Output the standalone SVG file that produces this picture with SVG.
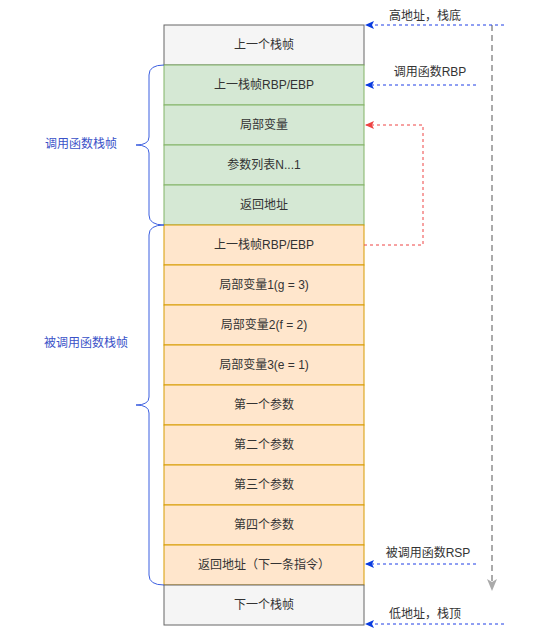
<svg xmlns="http://www.w3.org/2000/svg" width="545" height="643" viewBox="0 0 545 643">
<style>
text{font-family:"Liberation Sans","Noto Sans CJK SC",sans-serif;font-size:12px;fill:#333;text-anchor:middle;dominant-baseline:central}
.g rect{fill:#f5f5f5;stroke:#666}
.gr rect{fill:#d5e8d4;stroke:#82b366}
.o rect{fill:#ffe6cc;stroke:#d79b00}
.blue{fill:none;stroke:#1f3fe6;stroke-dasharray:3 3}
.red{fill:none;stroke:#ee4444;stroke-dasharray:3 3}
.brace{fill:none;stroke:#3b5ee0;stroke-width:1}
.bl{fill:#3a52c8}
</style>
<defs>
<marker id="ab" markerWidth="10" markerHeight="10" refX="8" refY="5" orient="auto" markerUnits="userSpaceOnUse"><path d="M0,1 L9,5 L0,9 L2,5 Z" fill="#0a3ce0"/></marker>
<marker id="ar" markerWidth="10" markerHeight="10" refX="8" refY="5" orient="auto" markerUnits="userSpaceOnUse"><path d="M0,1 L9,5 L0,9 L2,5 Z" fill="#ee4444"/></marker>
<marker id="ag" markerWidth="14" markerHeight="14" refX="7" refY="7" orient="auto" markerUnits="userSpaceOnUse"><path d="M0,2 L12,7 L0,12 L3,7 Z" fill="#aaa"/></marker>
</defs>
<g id="n1" class="g"><rect x="164" y="25" width="200" height="40"/><text x="264" y="45">上一个栈帧</text></g>
<g id="n2" class="gr"><rect x="164" y="65" width="200" height="40"/><text x="264" y="85">上一栈帧RBP/EBP</text></g>
<g id="n3" class="gr"><rect x="164" y="105" width="200" height="40"/><text x="264" y="125">局部变量</text></g>
<g id="n4" class="gr"><rect x="164" y="145" width="200" height="40"/><text x="264" y="165">参数列表N...1</text></g>
<g id="n5" class="gr"><rect x="164" y="185" width="200" height="40"/><text x="264" y="205">返回地址</text></g>
<g id="n6" class="o"><rect x="164" y="225" width="200" height="40"/><text x="264" y="245">上一栈帧RBP/EBP</text></g>
<g id="n7" class="o"><rect x="164" y="265" width="200" height="40"/><text x="264" y="285">局部变量1(g = 3)</text></g>
<g id="n8" class="o"><rect x="164" y="305" width="200" height="40"/><text x="264" y="325">局部变量2(f = 2)</text></g>
<g id="n9" class="o"><rect x="164" y="345" width="200" height="40"/><text x="264" y="365">局部变量3(e = 1)</text></g>
<g id="n10" class="o"><rect x="164" y="385" width="200" height="40"/><text x="264" y="405">第一个参数</text></g>
<g id="n11" class="o"><rect x="164" y="425" width="200" height="40"/><text x="264" y="445">第二个参数</text></g>
<g id="n12" class="o"><rect x="164" y="465" width="200" height="40"/><text x="264" y="485">第三个参数</text></g>
<g id="n13" class="o"><rect x="164" y="505" width="200" height="40"/><text x="264" y="525">第四个参数</text></g>
<g id="n14" class="o"><rect x="164" y="545" width="200" height="40"/><text x="264" y="565">返回地址（下一条指令）</text></g>
<g id="n15" class="g"><rect x="164" y="585" width="200" height="40"/><text x="264" y="605">下一个栈帧</text></g>

<g id="brace1"><path class="brace" d="M164,65 Q149,65 149,75 L149,137 Q149,145 136,145 Q149,145 149,153 L149,215 Q149,225 164,225"/><text class="bl" x="81" y="144">调用函数栈帧</text></g>
<g id="brace2"><path class="brace" d="M164,225 Q149,225 149,235 L149,397 Q149,405 136,405 Q149,405 149,413 L149,575 Q149,585 164,585"/><text class="bl" x="86" y="343">被调用函数栈帧</text></g>

<g id="connectors">
<path d="M492,25 L492,586" fill="none" stroke="#aaa" stroke-width="2" stroke-dasharray="6 4" marker-end="url(#ag)"/>
<path class="blue" d="M504,25 L366,25" marker-end="url(#ab)"/>
<path class="blue" d="M476,85 L366,85" marker-end="url(#ab)"/>
<path class="red" d="M364,245 L423,245 L423,125 L366,125" marker-end="url(#ar)"/>
<path class="blue" d="M476,564 L366,564" marker-end="url(#ab)"/>
<path class="blue" d="M504,624 L366,624" marker-end="url(#ab)"/>
</g>
<g id="labels">
<text x="425" y="16">高地址，栈底</text>
<text x="430" y="72">调用函数RBP</text>
<text x="428" y="553">被调用函数RSP</text>
<text x="425" y="614">低地址，栈顶</text>
</g>
</svg>
